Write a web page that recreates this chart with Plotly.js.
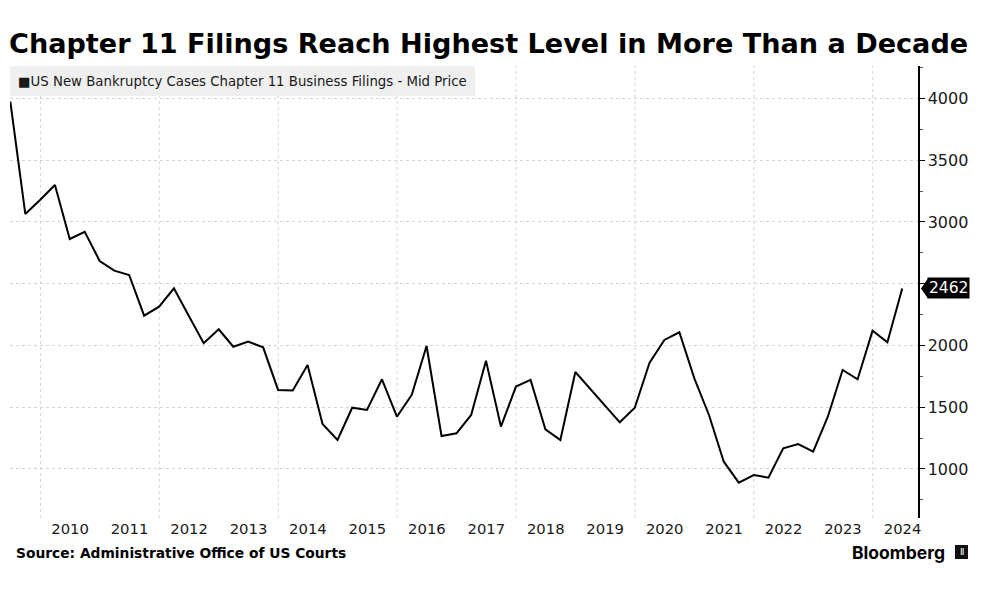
<!DOCTYPE html>
<html>
<head>
<meta charset="utf-8">
<script src="https://cdn.plot.ly/plotly-3.0.1.min.js"></script>
<style>html,body{margin:0;padding:0;background:#fff;}#chart{width:984px;height:592px;}</style>
</head>
<body>
<div id="chart"></div>
<script>
// Quarter-end dates, Q2 2009 .. Q2 2024
const quarterDates = [
  "2009-06-30","2009-09-30","2009-12-31",
  "2010-03-31","2010-06-30","2010-09-30","2010-12-31",
  "2011-03-31","2011-06-30","2011-09-30","2011-12-31",
  "2012-03-31","2012-06-30","2012-09-30","2012-12-31",
  "2013-03-31","2013-06-30","2013-09-30","2013-12-31",
  "2014-03-31","2014-06-30","2014-09-30","2014-12-31",
  "2015-03-31","2015-06-30","2015-09-30","2015-12-31",
  "2016-03-31","2016-06-30","2016-09-30","2016-12-31",
  "2017-03-31","2017-06-30","2017-09-30","2017-12-31",
  "2018-03-31","2018-06-30","2018-09-30","2018-12-31",
  "2019-03-31","2019-06-30","2019-09-30","2019-12-31",
  "2020-03-31","2020-06-30","2020-09-30","2020-12-31",
  "2021-03-31","2021-06-30","2021-09-30","2021-12-31",
  "2022-03-31","2022-06-30","2022-09-30","2022-12-31",
  "2023-03-31","2023-06-30","2023-09-30","2023-12-31",
  "2024-03-31","2024-06-30"
];
// Chapter 11 business filings
const chapter11Filings = [
  3974, 3065, 3180,
  3300, 2862, 2921, 2684,
  2606, 2571, 2241, 2314,
  2463, 2240, 2018, 2131,
  1990, 2031, 1985, 1640,
  1635, 1842, 1364, 1235,
  1496, 1478, 1726, 1423,
  1600, 1996, 1267, 1289,
  1437, 1877, 1343, 1667,
  1721, 1321, 1235, 1785,
  1650, 1515, 1378, 1496,
  1861, 2045, 2107, 1734,
  1437, 1059, 889, 951,
  930, 1167, 1202, 1140,
  1423, 1802, 1726, 2120,
  2026, 2462
];
const yearLabels = ["2010","2011","2012","2013","2014","2015","2016","2017","2018","2019","2020","2021","2022","2023","2024"];
const yearLabelPositions = yearLabels.map(y => y + "-07-02");
const gridYears = ["2010","2012","2014","2016","2018","2020","2022","2024"];
const gridPositions = gridYears.map(y => y + "-01-01");
const yTickValues = [1000, 1500, 2000, 2500, 3000, 3500, 4000];
const yTickText = ["1000", "1500", "2000", "", "3000", "3500", "4000"];
const yMinorTicks = [750, 1250, 1750, 2250, 2750, 3250, 3750, 4250];

const seriesName = "US New Bankruptcy Cases Chapter 11 Business Filings - Mid Price";
const titleText = "Chapter 11 Filings Reach Highest Level in More Than a Decade";
const sourceText = "Source: Administrative Office of US Courts";

const lastValue = chapter11Filings[chapter11Filings.length - 1];
const xRange = ["2009-06-28", "2024-10-05"];
const yMin = 603, yMax = 4263;
const halfH = (yMax - yMin) * 10 / 452; // ~10px in data units

const trace = {
  x: quarterDates,
  y: chapter11Filings,
  type: "scatter",
  mode: "lines",
  line: {color: "#000000", width: 2},
  hoverinfo: "x+y",
  showlegend: false
};

const gridShapes = gridPositions.map(d => ({
  type: "line", xref: "x", yref: "paper",
  x0: d, x1: d, y0: 0, y1: 1,
  line: {color: "#d4d4d4", width: 1, dash: "dot"},
  layer: "below"
}));

const layout = {
  width: 984,
  height: 592,
  paper_bgcolor: "#ffffff",
  plot_bgcolor: "#ffffff",
  margin: {l: 10, r: 66, t: 66, b: 74},
  font: {family: "DejaVu Sans, sans-serif", color: "#1a1a1a"},
  title: {
    text: titleText,
    font: {family: "DejaVu Sans, sans-serif", size: 27.1, weight: "bold", color: "#000"},
    xref: "container", yref: "container",
    x: 9 / 984, xanchor: "left",
    y: 1 - 44 / 592, yanchor: "middle"
  },
  xaxis: {
    type: "date",
    range: xRange,
    tickmode: "array",
    tickvals: yearLabelPositions,
    ticktext: yearLabels,
    ticks: "",
    showgrid: false,
    showline: false,
    zeroline: false,
    tickfont: {size: 14.8, color: "#1a1a1a"},
    fixedrange: true
  },
  yaxis: {
    side: "right",
    range: [yMin, yMax],
    tickmode: "array",
    tickvals: yTickValues,
    ticktext: yTickText,
    showline: true,
    linecolor: "#000",
    linewidth: 1.5,
    ticks: "outside",
    ticklen: 5,
    tickwidth: 1,
    tickcolor: "#000",
    showgrid: true,
    gridcolor: "#d4d4d4",
    gridwidth: 1,
    griddash: "dot",
    zeroline: false,
    tickfont: {size: 16, color: "#1a1a1a"},
    minor: {
      tickmode: "array",
      tickvals: yMinorTicks,
      ticks: "outside",
      ticklen: 3,
      tickcolor: "#555",
      showgrid: false
    },
    fixedrange: true
  },
  shapes: gridShapes.concat([
    {
      type: "rect", xref: "paper", yref: "paper",
      x0: 0, x1: 465 / 908, y0: 1 - 30 / 452, y1: 1,
      fillcolor: "#efefef", line: {width: 0}, layer: "above"
    },
    {
      type: "path", xref: "paper", yref: "y",
      path: "M " + (1 + 3 / 908) + "," + lastValue +
            " L " + (1 + 10 / 908) + "," + (lastValue + halfH) +
            " L " + (1 + 10 / 908) + "," + (lastValue - halfH) + " Z",
      fillcolor: "#000", line: {width: 0}, layer: "above"
    },
    {
      type: "rect", xref: "paper", yref: "paper",
      x0: (955 - 10) / 908, x1: (968 - 10) / 908,
      y0: (518 - 559) / 452, y1: (518 - 545) / 452,
      fillcolor: "#111", line: {width: 0}, layer: "above"
    }
  ]),
  annotations: [
    {
      xref: "paper", yref: "paper",
      x: 6 / 908, y: 1 - 15 / 452,
      xanchor: "left", yanchor: "middle",
      text: "\u25A0" + seriesName,
      showarrow: false,
      font: {size: 13.3, color: "#1a1a1a"}
    },
    {
      xref: "paper", yref: "y",
      x: 1 + 9 / 908, y: lastValue,
      xanchor: "left", yanchor: "middle",
      text: String(lastValue),
      showarrow: false,
      bgcolor: "#000",
      borderpad: 1,
      font: {size: 15.5, color: "#fff"}
    },
    {
      xref: "paper", yref: "paper",
      x: 4 / 908, y: (518 - 553) / 452,
      xanchor: "left", yanchor: "middle",
      text: sourceText,
      showarrow: false,
      font: {size: 13.8, weight: "bold", color: "#000"}
    },
    {
      xref: "paper", yref: "paper",
      x: (947 - 10) / 908, y: (518 - 552) / 452,
      xanchor: "right", yanchor: "middle",
      text: "Bloomberg",
      showarrow: false,
      font: {family: "Inter, Roboto, sans-serif", size: 17.5, weight: "bold", color: "#000"}
    },
    {
      xref: "paper", yref: "paper",
      x: (961.5 - 10) / 908, y: (518 - 552) / 452,
      xanchor: "center", yanchor: "middle",
      text: "\u2161",
      showarrow: false,
      font: {family: "DejaVu Sans, sans-serif", size: 9, color: "#fff"}
    }
  ]
};

Plotly.newPlot("chart", [trace], layout, {displayModeBar: false, staticPlot: true});
</script>
</body>
</html>
